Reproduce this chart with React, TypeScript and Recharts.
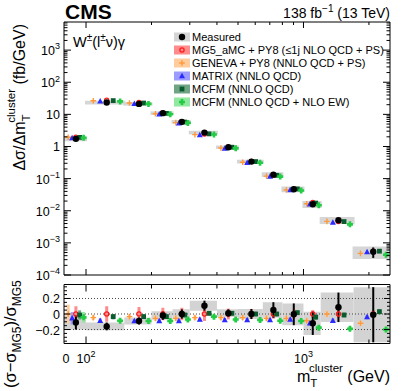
import React from 'react'
import {
  ComposedChart, Scatter, XAxis, YAxis, ErrorBar, ReferenceArea, ReferenceLine,
} from 'recharts'

// m_T^cluster bins in GeV (first bin starts at 0)
const BIN_EDGES = [0, 100, 150, 200, 250, 300, 400, 500, 650, 800, 1000, 1200, 1700, 2500]

// measured dσ/dm_T (fb/GeV)
const MEASURED = [1.73, 23.3, 21.2, 10.9, 5.84, 2.71, 0.95, 0.339, 0.133, 0.0468, 0.0159, 0.00506, 0.00053]

// lower panel, (σ − σ_MG5)/σ_MG5
const MEAS_RATIO = [-0.11, -0.16, -0.09, -0.02, 0.0, 0.107, 0.01, 0.0, 0.052, -0.004, -0.12, 0.086, -0.009]
const MEAS_UNC = [0.09, 0.05, 0.045, 0.055, 0.06, 0.065, 0.05, 0.065, 0.1, 0.14, 0.15, 0.19, 0.355]

const MG5_RATIO = [0, 0, 0, 0, 0, 0, 0, 0, 0, 0, 0, 0, 0]
const MG5_UNC = [0.1, 0.1, 0.09, 0.08, 0.08, 0.09, 0.07, 0.06, 0.06, 0.06, 0.05, 0.05, 0.05]
const GENEVA_RATIO = [0.0, -0.047, -0.034, -0.056, -0.056, -0.047, -0.047, -0.047, -0.056, -0.056, -0.086, 0.0, -0.12]
const GENEVA_UNC = [0.12, 0.03, 0.03, 0.03, 0.03, 0.03, 0.03, 0.03, 0.03, 0.03, 0.03, 0.04, 0.03]
const MATRIX_RATIO = [-0.056, -0.086, -0.09, -0.09, -0.09, -0.07, -0.077, -0.077, -0.077, -0.07, -0.12, -0.086, -0.04]
const MATRIX_UNC = [0.08, 0.03, 0.025, 0.025, 0.025, 0.025, 0.025, 0.025, 0.025, 0.025, 0.03, 0.03, 0.03]
const MCFM_RATIO = [-0.013, -0.034, -0.034, -0.034, -0.013, 0.009, 0.009, 0.0, 0.0, 0.017, -0.04, -0.013, 0.03]
const MCFM_UNC = [0.06, 0.035, 0.03, 0.03, 0.03, 0.03, 0.03, 0.03, 0.03, 0.03, 0.035, 0.03, 0.035]
const MCFM_EW_RATIO = [-0.043, -0.086, -0.09, -0.09, -0.07, -0.034, -0.07, -0.077, -0.086, -0.09, -0.176, -0.19, -0.2]
const MCFM_EW_UNC = [0.07, 0.03, 0.03, 0.03, 0.03, 0.03, 0.03, 0.03, 0.03, 0.03, 0.035, 0.03, 0.035]

const X_MIN = 79.2
const X_MAX = 2500
const Y_MIN = 1e-4
const Y_MAX = 7500
const R_MIN = -0.38
const R_MAX = 0.38

const X_MAJOR = [100, 1000]
const X_MINOR = [200, 300, 400, 500, 600, 700, 800, 900, 2000]
const Y_DECADES = [-4, -3, -2, -1, 0, 1, 2, 3]
const R_MAJOR = [-0.2, 0, 0.2]
const R_MINOR = [-0.35, -0.3, -0.25, -0.15, -0.1, -0.05, 0.05, 0.1, 0.15, 0.25, 0.3, 0.35]

const FONT = '"Liberation Sans", Arial, Helvetica, sans-serif'
const MEAS_FRAC = 0.54

const PREDICTIONS = [
  { name: 'MG5_aMC + PY8 (≤1j NLO QCD + PS)', ratio: MG5_RATIO, unc: MG5_UNC, color: '#ff1a1a', box: '#ff8c8c', kind: 'ring', frac: 0.54 },
  { name: 'GENEVA + PY8 (NNLO QCD + PS)', ratio: GENEVA_RATIO, unc: GENEVA_UNC, color: '#ff9a3c', box: '#ffcc9e', kind: 'plus', frac: 0.19 },
  { name: 'MATRIX (NNLO QCD)', ratio: MATRIX_RATIO, unc: MATRIX_UNC, color: '#2a2aff', box: '#9c9cff', kind: 'tri', frac: 0.37 },
  { name: 'MCFM (NNLO QCD)', ratio: MCFM_RATIO, unc: MCFM_UNC, color: '#0a5c2e', box: '#6fa585', kind: 'square', frac: 0.71 },
  { name: 'MCFM (NNLO QCD + NLO EW)', ratio: MCFM_EW_RATIO, unc: MCFM_EW_UNC, color: '#22cc44', box: '#92e8a0', kind: 'cross', frac: 0.89 },
]

const xTicks = [X_MIN, ...X_MAJOR, ...X_MINOR].sort((a, b) => a - b)
const yTicks: number[] = []
Y_DECADES.forEach((d) => {
  for (let k = 1; k <= 9; k++) {
    const v = k * Math.pow(10, d)
    if (v <= Y_MAX) yTicks.push(v)
  }
})
const rTicks = [...R_MAJOR, ...R_MINOR].sort((a, b) => a - b)

// position of a series inside its bin (log scale)
function xPos(i: number, frac: number) {
  const lo = Math.max(BIN_EDGES[i], X_MIN)
  const hi = BIN_EDGES[i + 1]
  return Math.pow(10, Math.log10(lo) + frac * (Math.log10(hi) - Math.log10(lo)))
}
const binLo = (i: number) => Math.max(BIN_EDGES[i], X_MIN)

const MG5_XSEC = MEASURED.map((m, i) => m / (1 + MEAS_RATIO[i]))

function Marker({ kind, color, cx, cy }: any) {
  if (cx == null || cy == null) return null
  switch (kind) {
    case 'dot':
      return <circle cx={cx} cy={cy} r={3.2} fill={color} />
    case 'ring':
      return <circle cx={cx} cy={cy} r={2.1} fill="none" stroke={color} strokeWidth={1.3} />
    case 'plus':
      return <path d={`M${cx - 2.8},${cy}h5.6M${cx},${cy - 2.8}v5.6`} stroke={color} strokeWidth={1.4} />
    case 'tri':
      return <path d={`M${cx},${cy - 3.3}L${cx + 3},${cy + 2.2}L${cx - 3},${cy + 2.2}Z`} fill={color} />
    case 'square':
      return <rect x={cx - 2.4} y={cy - 2.4} width={4.8} height={4.8} fill={color} />
    default: {
      const a = 3, b = 1.3
      return (
        <path
          d={`M${cx - b},${cy - a}h${2 * b}v${a - b}h${a - b}v${2 * b}h${b - a}v${a - b}h${-2 * b}v${b - a}h${b - a}v${-2 * b}h${a - b}Z`}
          fill={color}
        />
      )
    }
  }
}

const near = (list: number[], v: number) => list.some((m) => Math.abs(m - v) < 1e-9)
const isDecade = (v: number) => Math.abs(Math.log10(v) - Math.round(Math.log10(v))) < 1e-6

function Pow({ base, exp, size }: { base: string; exp: string; size: number }) {
  return (
    <>
      <tspan>{base}</tspan>
      {exp && <tspan dy={-size * 0.45} fontSize={size * 0.72}>{exp}</tspan>}
    </>
  )
}

function makeTick(side: 'bottom' | 'top' | 'left' | 'right', major: (v: number) => boolean,
  majorLen: number, minorLen: number, label?: (v: number) => [string, string] | null) {
  return (props: any) => {
    const { x, y, payload } = props
    const v = payload.value
    const len = v === X_MIN ? 0 : major(v) ? majorLen : minorLen
    let line = null
    if (len > 0) {
      if (side === 'bottom') line = <line x1={x} y1={y} x2={x} y2={y - len} stroke="#000" />
      if (side === 'top') line = <line x1={x} y1={y} x2={x} y2={y + len} stroke="#000" />
      if (side === 'left') line = <line x1={x} y1={y} x2={x + len} y2={y} stroke="#000" />
      if (side === 'right') line = <line x1={x} y1={y} x2={x - len} y2={y} stroke="#000" />
    }
    const lab = label ? label(v) : null
    let text = null
    if (lab) {
      const size = 12.5
      if (side === 'bottom') {
        text = (
          <text x={v === X_MIN ? x + 2 : x} y={y + 19.5} textAnchor="middle" fontSize={size} fontFamily={FONT} fill="#000">
            <Pow base={lab[0]} exp={lab[1]} size={size} />
          </text>
        )
      } else {
        text = (
          <text x={x - 4} y={y + 5} textAnchor="end" fontSize={size} fontFamily={FONT} fill="#000">
            <Pow base={lab[0]} exp={lab[1]} size={size} />
          </text>
        )
      }
    }
    return <g>{line}{text}</g>
  }
}

const xMajor = (v: number) => near(X_MAJOR, v)
const yLabel = (v: number): [string, string] | null => {
  if (!isDecade(v)) return null
  const d = Math.round(Math.log10(v))
  if (d === 0) return ['1', '']
  if (d === 1) return ['10', '']
  return ['10', d < 0 ? `−${-d}` : `${d}`]
}
const xLabel = (v: number): [string, string] | null => {
  if (v === X_MIN) return ['0', '']
  if (v === 100) return ['10', '2']
  if (v === 1000) return ['10', '3']
  return null
}
const rLabel = (v: number): [string, string] | null => {
  if (!near(R_MAJOR, v)) return null
  if (Math.abs(v) < 1e-9) return ['0', '']
  return [v < 0 ? `−${Math.abs(v).toFixed(1)}` : v.toFixed(1), '']
}

const AX = { stroke: '#000', strokeWidth: 1 }

function MainChart() {
  const measured = MEASURED.map((y, i) => ({ x: xPos(i, MEAS_FRAC), y, err: MEAS_UNC[i] * MG5_XSEC[i] }))
  return (
    <ComposedChart width={407} height={290} margin={{ top: 21, right: 16, bottom: 14, left: 63 }}>
      <XAxis dataKey="x" type="number" scale="log" domain={[X_MIN, X_MAX]} allowDataOverflow ticks={xTicks}
        interval={0} height={1} tickSize={0} tickMargin={0} axisLine={AX} tickLine={false}
        tick={makeTick('bottom', xMajor, 6, 3)} />
      <XAxis xAxisId="top" orientation="top" dataKey="x" type="number" scale="log" domain={[X_MIN, X_MAX]}
        allowDataOverflow ticks={xTicks} interval={0} height={1} tickSize={0} tickMargin={0}
        axisLine={AX} tickLine={false} tick={makeTick('top', xMajor, 6, 3)} />
      <YAxis dataKey="y" type="number" scale="log" domain={[Y_MIN, Y_MAX]} allowDataOverflow ticks={yTicks}
        interval={0} width={1} tickSize={0} tickMargin={0} axisLine={AX} tickLine={false}
        tick={makeTick('left', isDecade, 7, 3.5, yLabel)} />
      <YAxis yAxisId="right" orientation="right" dataKey="y" type="number" scale="log" domain={[Y_MIN, Y_MAX]}
        allowDataOverflow ticks={yTicks} interval={0} width={1} tickSize={0} tickMargin={0}
        axisLine={AX} tickLine={false} tick={makeTick('right', isDecade, 7, 3.5)} />
      {MEASURED.map((m, i) => (
        <ReferenceArea key={i} x1={binLo(i)} x2={BIN_EDGES[i + 1]}
          y1={m - MEAS_UNC[i] * MG5_XSEC[i]} y2={m + MEAS_UNC[i] * MG5_XSEC[i]}
          fill="#d6d6d6" fillOpacity={1} stroke="#d6d6d6" strokeWidth={2} ifOverflow="hidden" />
      ))}
      {PREDICTIONS.map((p) => (
        <Scatter key={p.name} isAnimationActive={false}
          data={p.ratio.map((r, i) => ({ x: xPos(i, p.frac), y: MG5_XSEC[i] * (1 + r) }))}
          shape={(s: any) => <Marker kind={p.kind} color={p.color} cx={s.cx} cy={s.cy} />} />
      ))}
      <Scatter isAnimationActive={false} data={measured}
        shape={(s: any) => <Marker kind="dot" color="#000" cx={s.cx} cy={s.cy} />}>
        <ErrorBar dataKey="err" direction="y" width={0} stroke="#000" strokeWidth={2} />
      </Scatter>
    </ComposedChart>
  )
}

function RatioChart() {
  const measured = MEAS_RATIO.map((y, i) => ({ x: xPos(i, MEAS_FRAC), y, err: MEAS_UNC[i] }))
  return (
    <ComposedChart width={407} height={121} margin={{ top: 13.5, right: 16, bottom: 46.5, left: 63 }}>
      <XAxis dataKey="x" type="number" scale="log" domain={[X_MIN, X_MAX]} allowDataOverflow ticks={xTicks}
        interval={0} height={1} tickSize={0} tickMargin={0} axisLine={AX} tickLine={false}
        tick={makeTick('bottom', xMajor, 7, 4, xLabel)} />
      <XAxis xAxisId="top" orientation="top" dataKey="x" type="number" scale="log" domain={[X_MIN, X_MAX]}
        allowDataOverflow ticks={xTicks} interval={0} height={1} tickSize={0} tickMargin={0}
        axisLine={AX} tickLine={false} tick={makeTick('top', xMajor, 7, 4)} />
      <YAxis dataKey="y" type="number" domain={[R_MIN, R_MAX]} allowDataOverflow ticks={rTicks}
        interval={0} width={1} tickSize={0} tickMargin={0} axisLine={AX} tickLine={false}
        tick={makeTick('left', (v) => near(R_MAJOR, v), 6, 3, rLabel)} />
      <YAxis yAxisId="right" orientation="right" dataKey="y" type="number" domain={[R_MIN, R_MAX]}
        allowDataOverflow ticks={rTicks} interval={0} width={1} tickSize={0} tickMargin={0}
        axisLine={AX} tickLine={false} tick={makeTick('right', (v) => near(R_MAJOR, v), 6, 3)} />
      {MEAS_RATIO.map((r, i) => (
        <ReferenceArea key={i} x1={binLo(i)} x2={BIN_EDGES[i + 1]} y1={r - MEAS_UNC[i]} y2={r + MEAS_UNC[i]}
          fill="#d3d3d3" fillOpacity={1} stroke="none" ifOverflow="hidden" />
      ))}
      {R_MAJOR.map((v) => (
        <ReferenceLine key={v} y={v} stroke="#444" strokeDasharray="1 2" strokeWidth={1} />
      ))}
      {PREDICTIONS.map((p) => (
        <Scatter key={p.name} isAnimationActive={false}
          data={p.ratio.map((y, i) => ({ x: xPos(i, p.frac), y, err: p.unc[i] }))}
          shape={(s: any) => <Marker kind={p.kind} color={p.color} cx={s.cx} cy={s.cy} />}>
          <ErrorBar dataKey="err" direction="y" width={0} stroke={p.box} strokeWidth={3} />
        </Scatter>
      ))}
      <Scatter isAnimationActive={false} data={measured}
        shape={(s: any) => <Marker kind="dot" color="#000" cx={s.cx} cy={s.cy} />}>
        <ErrorBar dataKey="err" direction="y" width={0} stroke="#000" strokeWidth={2} />
      </Scatter>
    </ComposedChart>
  )
}

const LEGEND = [
  { name: 'Measured', color: '#000', box: '#d4d4d4', kind: 'dot' },
  ...PREDICTIONS,
]

function Overlay() {
  return (
    <svg width={407} height={391} style={{ position: 'absolute', left: 0, top: 0, pointerEvents: 'none' }}
      fontFamily={FONT}>
      <text x={65} y={19} fontSize={21} fontWeight="bold">CMS</text>
      <text x={390} y={17.5} fontSize={14} textAnchor="end">
        138 fb<tspan dy={-6} fontSize={10}>−1</tspan><tspan dy={6} fontSize={14}> (13 TeV)</tspan>
      </text>
      <text x={73} y={46.5} fontSize={14.5}>
        W<tspan dy={-6} fontSize={10}>±</tspan><tspan dy={6}>(l</tspan>
        <tspan dy={-6} fontSize={10}>±</tspan><tspan dy={6}>ν)γ</tspan>
      </text>
      {LEGEND.map((l, i) => {
        const cy = 37 + i * 13
        return (
          <g key={l.name}>
            <rect x={174} y={cy - 4.5} width={16} height={9} fill={l.box} />
            <Marker kind={l.kind} color={l.color} cx={182} cy={cy} />
            <text x={192} y={cy + 4} fontSize={11}>{l.name}</text>
          </g>
        )
      })}
      <g transform="translate(25,24) rotate(-90)">
        <text x={0} y={0} fontSize={16} textAnchor="end">
          Δσ/Δm<tspan dy={5} fontSize={11.5}>T</tspan>
          <tspan dx={-7} dy={-15} fontSize={11.5}>cluster</tspan>
          <tspan dy={10} fontSize={16}> (fb/GeV)</tspan>
        </text>
      </g>
      <g transform="translate(16,388) rotate(-90)">
        <text x={0} y={0} fontSize={16.5}>
          (σ−σ<tspan dy={5} fontSize={12}>MG5</tspan>
          <tspan dy={-5} fontSize={16.5}>)/σ</tspan>
          <tspan dy={5} fontSize={12}>MG5</tspan>
        </text>
      </g>
      <text x={390} y={381.5} fontSize={16} textAnchor="end">
        m<tspan dy={5} fontSize={11.5}>T</tspan>
        <tspan dx={-7} dy={-15} fontSize={11.5}>cluster</tspan>
        <tspan dy={10} fontSize={16}> (GeV)</tspan>
      </text>
    </svg>
  )
}

export default function App() {
  return (
    <div style={{ position: 'relative', width: 407, height: 391, background: '#fff' }}>
      <style>{'body{margin:0}'}</style>
      <div style={{ position: 'absolute', left: 0, top: 0 }}>
        <MainChart />
      </div>
      <div style={{ position: 'absolute', left: 0, top: 270 }}>
        <RatioChart />
      </div>
      <Overlay />
    </div>
  )
}
